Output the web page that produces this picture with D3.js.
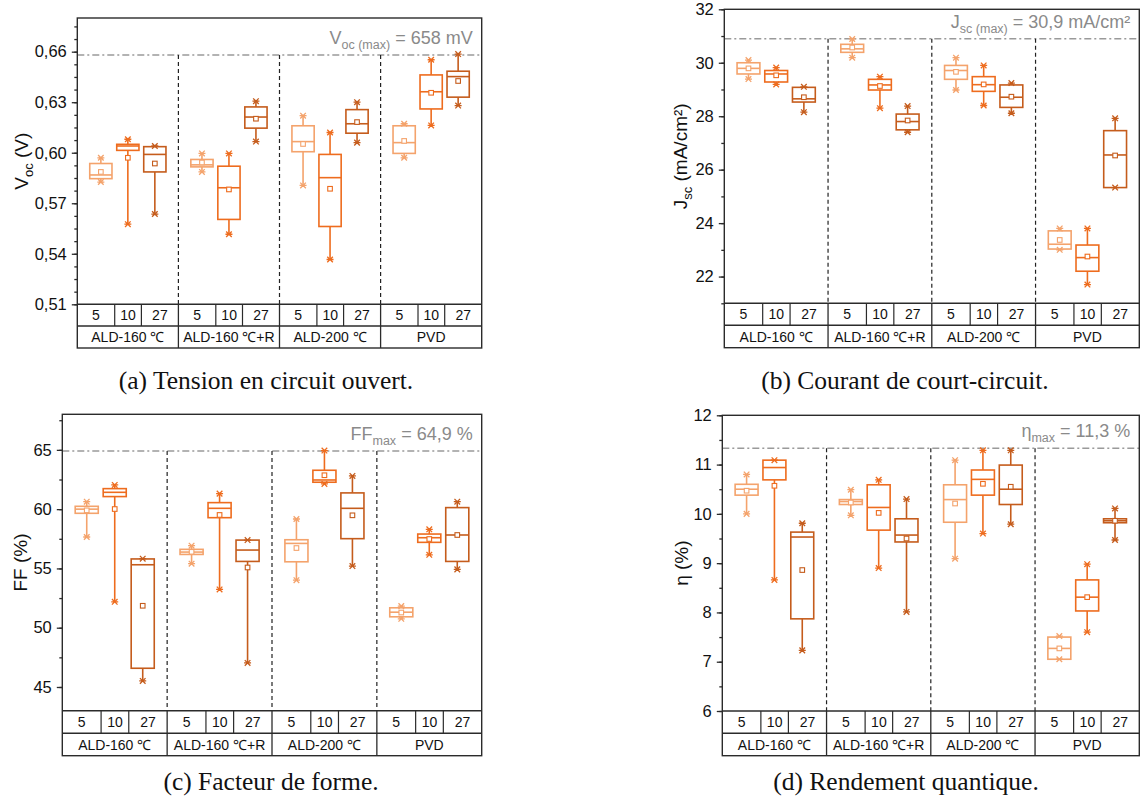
<!DOCTYPE html>
<html><head><meta charset="utf-8">
<script src="https://cdn.jsdelivr.net/npm/d3@7"></script>
<style>body{margin:0;background:#fff}svg{display:block}</style>
</head><body>
<svg id="c" width="1142" height="807"></svg>
<script>
// ---------- data ----------
const groups = ["ALD-160 \u2103", "ALD-160 \u2103+R", "ALD-200 \u2103", "PVD"];
const thicknesses = ["5", "10", "27"];
const seriesColors = ["#F4A36C", "#EE6C1E", "#C55C1C"];

// Voc (V): per group x thickness (12 entries)
const vocMin  = [0.5826,0.5576,0.5636, 0.5886,0.5516,0.6066, 0.5806,0.5366,0.6060, 0.5970,0.6162,0.6280];
const vocQ1   = [0.5846,0.6014,0.5886, 0.5916,0.5604,0.6146, 0.6006,0.5562,0.6116, 0.5996,0.6260,0.6330];
const vocMed  = [0.5868,0.6040,0.5990, 0.5928,0.5792,0.6212, 0.6066,0.5852,0.6172, 0.6060,0.6362,0.6452];
const vocQ3   = [0.5936,0.6050,0.6036, 0.5960,0.5920,0.6272, 0.6160,0.5990,0.6256, 0.6160,0.6462,0.6484];
const vocMax  = [0.5970,0.6080,0.6040, 0.5996,0.5996,0.6306, 0.6220,0.6120,0.6300, 0.6172,0.6552,0.6586];
const vocMean = [0.5886,0.5970,0.5936, 0.5942,0.5782,0.6202, 0.6052,0.5786,0.6182, 0.6070,0.6356,0.6426];

// Jsc (mA/cm2)
const jscMin  = [29.39,29.19,28.15, 30.19,28.30,27.40, 28.98,28.40,28.11, 23.00,21.70,25.33];
const jscQ1   = [29.58,29.28,28.53, 30.39,28.98,27.49, 29.38,28.93,28.33, 23.03,22.20,25.33];
const jscMed  = [29.79,29.58,28.65, 30.52,29.17,27.80, 29.71,29.18,28.71, 23.21,22.71,26.55];
const jscQ3   = [30.00,29.71,29.08, 30.69,29.38,28.08, 29.90,29.48,29.17, 23.71,23.18,27.46];
const jscMax  = [30.10,29.82,29.10, 30.89,29.48,28.38, 30.19,29.90,29.24, 23.80,23.80,27.92];
const jscMean = [29.79,29.53,28.71, 30.57,29.13,27.84, 29.66,29.19,28.73, 23.37,22.75,26.53];

// FF (%)
const ffMin  = [57.65,52.18,45.51, 55.40,53.23,47.03, 54.01,62.13,55.20, 50.75,56.15,54.92];
const ffQ1   = [59.65,61.06,46.58, 56.18,59.28,55.59, 55.56,62.27,57.51, 50.92,57.20,55.59];
const ffMed  = [60.00,61.42,55.31, 56.38,60.07,56.55, 57.11,62.46,60.07, 51.31,57.59,57.82];
const ffQ3   = [60.24,61.73,55.80, 56.61,60.55,57.39, 57.42,63.28,61.37, 51.68,57.90,60.13];
const ffMax  = [60.63,62.04,55.82, 56.92,61.31,57.39, 59.17,64.94,62.80, 51.82,58.30,60.63];
const ffMean = [59.90,60.01,51.85, 56.40,59.51,55.08, 56.72,62.86,59.48, 51.28,57.48,57.82];

// eta (%)
const etaMin  = [10.00, 8.66, 7.23,  9.97, 8.90, 8.01,  9.09, 9.60, 9.79,  7.05, 7.60, 9.47];
const etaQ1   = [10.38,10.69, 7.87, 10.19, 9.67, 9.43,  9.83,10.38,10.19,  7.05, 8.03, 9.82];
const etaMed  = [10.50,10.94, 9.53, 10.25,10.13, 9.57, 10.29,10.70,10.50,  7.27, 8.31, 9.86];
const etaQ3   = [10.60,11.09, 9.63, 10.29,10.59, 9.90, 10.59,10.89,10.99,  7.50, 8.66, 9.90];
const etaMax  = [10.80,11.09, 9.81, 10.49,10.69,10.30, 11.09,11.29,11.29,  7.52, 8.98,10.11];
const etaMean = [10.47,10.57, 8.86, 10.23,10.02, 9.50, 10.21,10.61,10.55,  7.27, 8.31, 9.86];

const maxValues = [0.658, 30.9, 64.9, 11.33];

const vocTicks = [0.51,0.54,0.57,0.60,0.63,0.66];
const jscTicks = [22,24,26,28,30,32];
const ffTicks  = [45,50,55,60,65];
const etaTicks = [6,7,8,9,10,11,12];

const captions = ["(a) Tension en circuit ouvert.", "(b) Courant de court-circuit.",
                  "(c) Facteur de forme.", "(d) Rendement quantique."];

// ---------- drawing ----------
const svg = d3.select("#c");
const FONT = "'Liberation Sans', Arial, sans-serif";
const AX = "#2b2b2b";

function build(min,q1,med,q3,max,mean){
  return min.map((_,i)=>({g:groups[Math.floor(i/3)], t:thicknesses[i%3], ci:i%3,
    min:min[i],q1:q1[i],med:med[i],q3:q3[i],max:max[i],mean:mean[i]}));
}

function drawPanel(p){
  const g = svg.append("g");
  const y = d3.scaleLinear().domain(p.domain).range([p.bottom, p.top]);
  const xg = d3.scaleBand().domain(groups).range([p.left, p.right]).padding(0);
  const gw = xg.bandwidth();
  const xt = d3.scalePoint().domain(thicknesses).range([-0.267*gw, 0.267*gw]);
  const bw = 0.22*gw;
  const cx = d => xg(d.g) + gw/2 + xt(d.t);

  // max line
  g.append("line").attr("x1",p.left).attr("x2",p.right)
    .attr("y1",y(p.maxVal)).attr("y2",y(p.maxVal))
    .attr("stroke","#9a9a9a").attr("stroke-width",1.4).attr("stroke-dasharray","7,3,2,3");
  // group dashed dividers
  g.selectAll("line.div").data(groups.slice(1)).join("line")
    .attr("x1",d=>xg(d)).attr("x2",d=>xg(d))
    .attr("y1",y(p.maxVal)).attr("y2",p.bottom)
    .attr("stroke","#222").attr("stroke-width",1.2).attr("stroke-dasharray","4,3");

  // annotation
  const an = g.append("text").attr("x",p.right-9).attr("y",y(p.maxVal)-11)
    .attr("text-anchor","end").attr("fill","#8a8a8a").attr("font-family",FONT).attr("font-size",18);
  an.append("tspan").text(p.ann[0]);
  an.append("tspan").attr("dy",5).attr("font-size",12.5).text(p.ann[1]);
  an.append("tspan").attr("dy",-5).text(p.ann[2]);

  // boxes
  const data = p.data;
  const bx = g.selectAll("g.box").data(data).join("g")
    .attr("stroke",d=>seriesColors[d.ci]).attr("fill","none").attr("stroke-width",1.6);
  bx.append("line").attr("x1",cx).attr("x2",cx).attr("y1",d=>y(d.max)).attr("y2",d=>y(d.q3));
  bx.append("line").attr("x1",cx).attr("x2",cx).attr("y1",d=>y(d.q1)).attr("y2",d=>y(d.min));
  bx.append("rect").attr("x",d=>cx(d)-bw/2).attr("width",bw)
    .attr("y",d=>y(d.q3)).attr("height",d=>Math.max(1,y(d.q1)-y(d.q3))).attr("fill","#fff");
  bx.append("line").attr("x1",d=>cx(d)-bw/2).attr("x2",d=>cx(d)+bw/2)
    .attr("y1",d=>y(d.med)).attr("y2",d=>y(d.med));
  bx.append("rect").attr("x",d=>cx(d)-2.3).attr("y",d=>y(d.mean)-2.3)
    .attr("width",4.6).attr("height",4.6).attr("stroke-width",1.1).attr("fill","#fff");
  // whisker end markers
  ["min","max"].forEach(k=>{
    bx.append("path").attr("stroke-width",1.3)
      .attr("d",d=>{const X=cx(d),Y=y(d[k]),s=2.8;
        return `M${X-s},${Y-s}L${X+s},${Y+s}M${X-s},${Y+s}L${X+s},${Y-s}M${X-3.5},${Y}L${X+3.5},${Y}`;});
  });

  // frame
  g.append("rect").attr("x",p.left).attr("y",p.top).attr("width",p.right-p.left)
    .attr("height",p.row2-p.top).attr("fill","none").attr("stroke",AX).attr("stroke-width",1.4);
  [p.bottom,p.row1].forEach(v=>g.append("line").attr("x1",p.left).attr("x2",p.right)
    .attr("y1",v).attr("y2",v).attr("stroke",AX).attr("stroke-width",1.4));
  // table cells
  const edges = [0,0.37,0.634,1];
  groups.forEach((gr,gi)=>{
    const x0 = xg(gr);
    if(gi>0) g.append("line").attr("x1",x0).attr("x2",x0).attr("y1",p.bottom).attr("y2",p.row2)
      .attr("stroke",AX).attr("stroke-width",1.3);
    [1,2].forEach(e=>g.append("line").attr("x1",x0+edges[e]*gw).attr("x2",x0+edges[e]*gw)
      .attr("y1",p.bottom).attr("y2",p.row1).attr("stroke",AX).attr("stroke-width",1.2));
    thicknesses.forEach((t,ti)=>g.append("text")
      .attr("x",x0+(edges[ti]+edges[ti+1])/2*gw).attr("y",(p.bottom+p.row1)/2+5)
      .attr("text-anchor","middle").attr("font-family",FONT).attr("font-size",14).attr("fill","#111").text(t));
    g.append("text").attr("x",x0+gw/2).attr("y",(p.row1+p.row2)/2+5)
      .attr("text-anchor","middle").attr("font-family",FONT).attr("font-size",14).attr("fill","#111").text(gr);
  });

  // y axis
  const minorAx = g.append("g").attr("transform",`translate(${p.left},0)`)
    .call(d3.axisLeft(y).tickValues(p.minor).tickSize(3).tickFormat(""));
  const majorAx = g.append("g").attr("transform",`translate(${p.left},0)`)
    .call(d3.axisLeft(y).tickValues(p.ticks).tickSize(5.5).tickPadding(5).tickFormat(p.fmt));
  [minorAx,majorAx].forEach(a=>{a.select(".domain").remove();
    a.selectAll("line").attr("stroke",AX).attr("stroke-width",1.3);});
  majorAx.selectAll("text").attr("font-family",FONT).attr("font-size",16.5).attr("fill","#111");

  // y title
  const tt = g.append("text").attr("transform",`translate(${p.titleX},${(p.top+p.bottom)/2}) rotate(-90)`)
    .attr("text-anchor","middle").attr("font-family",FONT).attr("font-size",19).attr("fill","#111");
  tt.append("tspan").text(p.title[0]);
  if(p.title[1]){
    tt.append("tspan").attr("dy",5).attr("font-size",13).text(p.title[1]);
    tt.append("tspan").attr("dy",-5).text(p.title[2]);
  }

  // caption
  svg.append("text").attr("x",p.capX).attr("y",p.capY).attr("text-anchor","middle")
    .attr("font-family","'Liberation Serif','DejaVu Serif',serif").attr("font-size",25.5)
    .attr("fill","#111").text(p.caption);
}

const range = (a,b,s)=>d3.range(Math.round((b-a)/s)+1).map(i=>+(a+i*s).toFixed(4));
const comma = d3.formatLocale({decimal:",",thousands:" ",grouping:[3],currency:["",""]}).format(".2f");

drawPanel({left:77.3,right:481.7,top:18,bottom:304.3,row1:326,row2:348,
  domain:[0.51,0.68],ticks:vocTicks,minor:range(0.51,0.675,0.0075),fmt:comma,
  maxVal:maxValues[0],ann:["V","oc (max)"," = 658 mV"],title:["V","oc"," (V)"],titleX:28,
  data:build(vocMin,vocQ1,vocMed,vocQ3,vocMax,vocMean),caption:captions[0],capX:266,capY:389});

drawPanel({left:724.3,right:1139.3,top:9.3,bottom:303.3,row1:325.3,row2:347.7,
  domain:[21,32],ticks:jscTicks,minor:range(21,32,1),fmt:d3.format("d"),
  maxVal:maxValues[1],ann:["J","sc (max)"," = 30,9 mA/cm\u00B2"],title:["J","sc"," (mA/cm\u00B2)"],titleX:687,
  data:build(jscMin,jscQ1,jscMed,jscQ3,jscMax,jscMean),caption:captions[1],capX:905,capY:389});

drawPanel({left:62.3,right:481.7,top:414.3,bottom:710.7,row1:733.3,row2:755.7,
  domain:[43,68],ticks:ffTicks,minor:range(45,67.5,2.5),fmt:d3.format("d"),
  maxVal:maxValues[2],ann:["FF","max"," = 64,9 %"],title:["FF (%)"],titleX:27,
  data:build(ffMin,ffQ1,ffMed,ffQ3,ffMax,ffMean),caption:captions[2],capX:271,capY:790});

drawPanel({left:722.3,right:1139.3,top:415.3,bottom:711,row1:733.3,row2:755.7,
  domain:[6,12],ticks:etaTicks,minor:range(6,12,0.5),fmt:d3.format("d"),
  maxVal:maxValues[3],ann:["\u03B7","max"," = 11,3 %"],title:["\u03B7 (%)"],titleX:688,
  data:build(etaMin,etaQ1,etaMed,etaQ3,etaMax,etaMean),caption:captions[3],capX:906,capY:790});
</script>
</body></html>
